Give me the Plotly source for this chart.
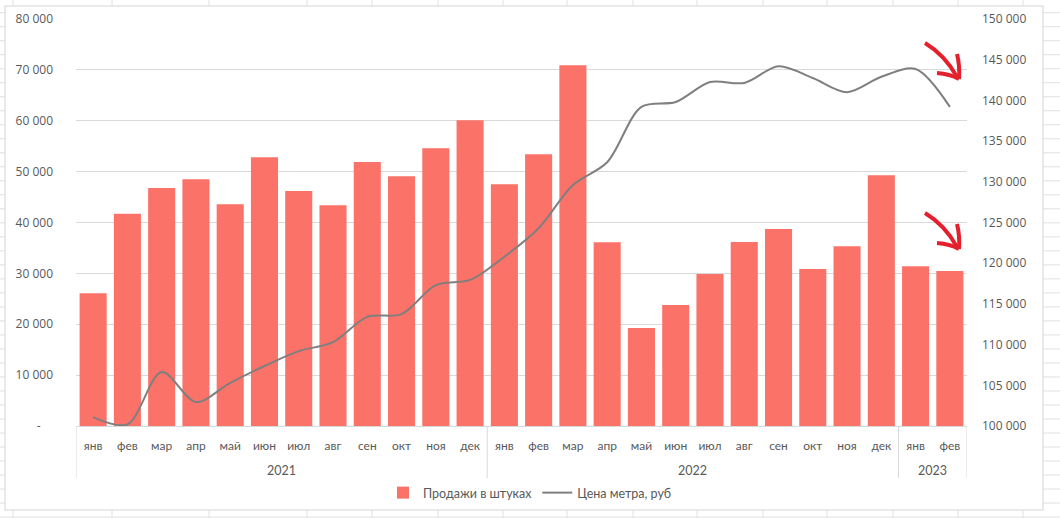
import plotly.graph_objects as go

months = ["янв", "фев", "мар", "апр", "май", "июн", "июл", "авг", "сен", "окт", "ноя", "дек",
          "янв", "фев", "мар", "апр", "май", "июн", "июл", "авг", "сен", "окт", "ноя", "дек",
          "янв", "фев"]
years = ["2021", "2022", "2023"]
year_counts = [12, 12, 2]

sales = [26100, 41700, 46800, 48500, 43600, 52850, 46200, 43400, 51900, 49100, 54600, 60100,
         47500, 53400, 70900, 36100, 19250, 23800, 29900, 36150, 38700, 30850, 35350, 49300,
         31400, 30450]
price = [101100, 100200, 106630, 102950, 105300, 107370, 109200, 110300, 113400, 113750, 117300, 117950,
         120800, 124300, 129600, 132400, 139200, 139800, 142250, 142150, 144200, 142750, 141000, 142900,
         143850, 139200]

left_ticks = [0, 10000, 20000, 30000, 40000, 50000, 60000, 70000, 80000]
left_ticktext = ["-\u00a0\u00a0\u00a0\u00a0", "10 000", "20 000", "30 000", "40 000", "50 000",
                 "60 000", "70 000", "80 000"]

W, H = 1060, 518
ML, MR, MT, MB = 76, 93, 19, 92
PW, PH = W - ML - MR, H - MT - MB


def px(x):
    return (x - ML) / PW


def py(y):
    return (H - MB - y) / PH


GREY = "#595959"
GRID = "#d9d9d9"
xs = list(range(len(months)))

fig = go.Figure()
fig.add_trace(go.Bar(x=xs, y=sales, name="Продажи в штуках", marker_color="#FA7268",
                     marker_line_width=0, yaxis="y"))
fig.add_trace(go.Scatter(x=xs, y=price, name="Цена метра, руб", mode="lines",
                         line=dict(color="#7f7f7f", width=2, shape="spline", smoothing=0.9),
                         yaxis="y2"))

shapes = []
# spreadsheet background grid
cols = [13, 112, 209, 307, 372, 438, 503, 567, 633, 697, 763, 827, 893, 958, 1023]
for c in cols:
    shapes.append(dict(type="line", xref="paper", yref="paper", x0=px(c), x1=px(c), y0=py(0), y1=py(H),
                       line=dict(color="#e0e0e0", width=1), layer="below"))
r = 12.7
while r < H:
    shapes.append(dict(type="line", xref="paper", yref="paper", x0=px(0), x1=px(W), y0=py(r), y1=py(r),
                       line=dict(color="#e0e0e0", width=1), layer="below"))
    r += 14.01
# chart area
shapes.append(dict(type="rect", xref="paper", yref="paper", x0=px(5), x1=px(1043), y0=py(6), y1=py(510),
                   fillcolor="white", line=dict(color="#d4d4d4", width=1), layer="below"))
# category dividers
bounds = [-0.5]
acc = -0.5
for n in year_counts:
    acc += n
    bounds.append(acc)
for b in bounds:
    shapes.append(dict(type="line", xref="x", yref="paper", x0=b, x1=b, y0=0, y1=py(478),
                       line=dict(color=GRID, width=1)))

# red hand-drawn arrows
RED = "#e4202c"


def path(pts):
    s = "M %f,%f" % (px(pts[0][0]), py(pts[0][1]))
    if len(pts) == 3:
        s += " Q %f,%f %f,%f" % (px(pts[1][0]), py(pts[1][1]), px(pts[2][0]), py(pts[2][1]))
    else:
        for p in pts[1:]:
            s += " L %f,%f" % (px(p[0]), py(p[1]))
    return s


for off in [0, 170]:
    for pts in [[(925, 43 + off), (945, 55 + off), (957, 77 + off)],
                [(957, 54 + off), (960, 66 + off), (959, 79 + off)],
                [(937, 73 + off), (950, 74 + off), (959, 79 + off)]]:
        shapes.append(dict(type="path", xref="paper", yref="paper", path=path(pts),
                           line=dict(color=RED, width=4)))

annotations = []
start = 0
for yr, n in zip(years, year_counts):
    annotations.append(dict(x=start + (n - 1) / 2, y=py(470), xref="x", yref="paper", text=yr,
                            showarrow=False, font=dict(family="Lato", size=12.5, color=GREY),
                            yanchor="middle"))
    start += n

fig.update_layout(
    width=W, height=H,
    margin=dict(l=ML, r=MR, t=MT, b=MB, autoexpand=False),
    paper_bgcolor="white", plot_bgcolor="rgba(0,0,0,0)",
    separators=", ",
    bargap=0.21,
    showlegend=True,
    legend=dict(orientation="h", x=px(530), xanchor="center", y=py(493), yanchor="middle",
                font=dict(family="Lato", size=12.5, color=GREY), itemwidth=30,
                bgcolor="rgba(0,0,0,0)"),
    xaxis=dict(range=[-0.5, 25.5], tickvals=xs, ticktext=months, showgrid=False,
               showline=True, linecolor=GRID, linewidth=1, ticks="", zeroline=False,
               tickfont=dict(family="Lato", size=12, color=GREY), ticklabelstandoff=9),
    yaxis=dict(range=[0, 80000], tickvals=left_ticks, ticktext=left_ticktext, showgrid=True,
               gridcolor=GRID, gridwidth=1, zeroline=False, ticks="",
               tickfont=dict(family="Open Sans", size=12, color=GREY), ticklabelstandoff=22),
    yaxis2=dict(range=[100000, 150000], dtick=5000, tick0=100000, overlaying="y", side="right",
                showgrid=False, zeroline=False, ticks="", tickformat=",d",
                tickfont=dict(family="Open Sans", size=12, color=GREY), ticklabelstandoff=14),
    shapes=shapes,
    annotations=annotations,
)

fig.write_html("out.html", config={"displayModeBar": False},
               post_script="document.body.style.margin='0';document.body.style.overflow='hidden';")
